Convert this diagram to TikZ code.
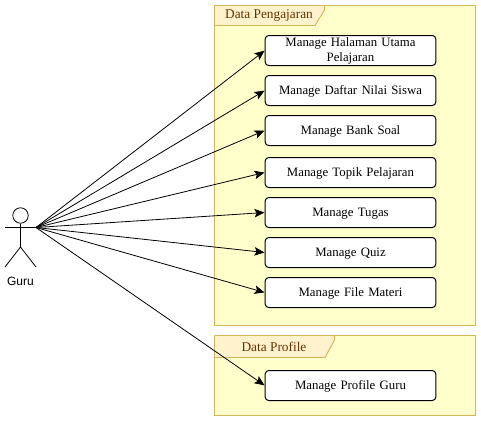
\documentclass[tikz,border=0pt]{standalone}
\usepackage{fontspec}
\setmainfont{Liberation Serif}
\setsansfont{Liberation Sans}
\usetikzlibrary{arrows.meta}
\definecolor{framefill}{HTML}{FFFFCC}
\definecolor{frameline}{HTML}{D6B656}
\definecolor{tabfill}{HTML}{FFF2CC}
\definecolor{tabtext}{HTML}{663300}
\tikzset{
	usecasetwo/.style={draw,rectangle,rounded corners=2.6pt,fill=white,line width=0.75pt,minimum width=127.9pt,minimum height=22.5pt,text width=120pt,align=center,inner sep=0pt,font=\fontsize{9.6}{11.2}\selectfont},
	usecase/.style={usecasetwo,text depth=0.8pt},
	package/.style={draw=frameline,fill=framefill,line width=0.7pt},
	packagetab/.style={draw=frameline,fill=tabfill,line width=0.7pt},
	tablabel/.style={text=tabtext,inner sep=0pt,font=\fontsize{10}{11}\selectfont},
	actorline/.style={line width=0.6pt},
	link/.style={-{Stealth[length=7.5pt,width=6.4pt,inset=1.6pt]},line width=0.6pt,shorten >=0.2pt}
}
\begin{document}
\begin{tikzpicture}[x=0.75pt,y=-0.75pt]
		\useasboundingbox (0,0) rectangle (481,422);
		%packages
		\draw[package] (214.5,5.5) rectangle (475.5,325.5);
		\draw[packagetab] (214.5,5.5) -- (324.5,5.5) -- (324.5,10) -- (315,25.5) -- (214.5,25.5) -- cycle;
		\node[tablabel] (TabPengajaran) at (269,15.5) {Data Pengajaran};
		\draw[package] (214.5,335.5) rectangle (475.5,415.5);
		\draw[packagetab] (214.5,335.5) -- (334.5,335.5) -- (334.5,340) -- (325,357.5) -- (214.5,357.5) -- cycle;
		\node[tablabel] (TabProfile) at (274,346.5) {Data Profile};
		%use cases
		\node[usecasetwo] (Halaman) at (350.5,50.5) {Manage Halaman Utama \\ Pelajaran};
		\node[usecase] (Nilai) at (350.5,90.5) {Manage Daftar Nilai Siswa};
		\node[usecase] (Bank) at (350.5,130.5) {Manage Bank Soal};
		\node[usecase] (Topik) at (350.5,172.5) {Manage Topik Pelajaran};
		\node[usecase] (Tugas) at (350.5,212.5) {Manage Tugas};
		\node[usecase] (Quiz) at (350.5,252.5) {Manage Quiz};
		\node[usecase] (Materi) at (350.5,292.5) {Manage File Materi};
		\node[usecase] (Profile) at (350.5,385.5) {Manage Profile Guru};
		%actor
		\node[draw,circle,actorline,minimum size=11.6pt,inner sep=0pt] (Head) at (20.5,215.5) {};
		\coordinate (Hip) at (20.5,247);
		\coordinate (HandLeft) at (5,227.5);
		\coordinate (HandRight) at (36,227.5);
		\coordinate (FootLeft) at (5,267);
		\coordinate (FootRight) at (36,267);
		\draw[actorline] (Head) -- (Hip);
		\draw[actorline] (HandLeft) -- (HandRight);
		\draw[actorline] (FootLeft) -- (Hip) -- (FootRight);
		\node[font=\sffamily\fontsize{9}{11}\selectfont,inner sep=0pt] (Guru) at (20.5,281) {Guru};
		%links
		\foreach \target in {Halaman,Nilai,Bank,Topik,Tugas,Quiz,Materi,Profile}
			\draw[link] (HandRight) -- (\target.west);
	\end{tikzpicture}
\end{document}
